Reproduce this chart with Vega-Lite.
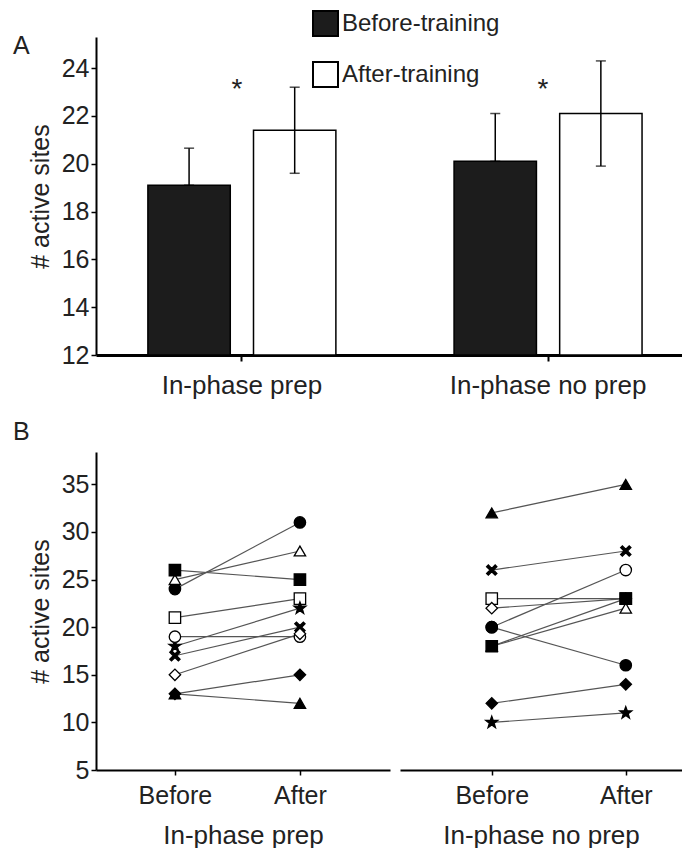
{
  "$schema": "https://vega.github.io/schema/vega-lite/v6.json",
  "padding": {"left": 13, "top": 10, "right": 0, "bottom": 0},
  "background": "white",
  "config": {
    "font": "Liberation Sans",
    "view": {"stroke": null},
    "axis": {"labelFontSize": 25, "titleFontSize": 25, "titleFontWeight": "normal", "labelColor": "#222", "titleColor": "#222", "domainColor": "black", "tickColor": "black", "grid": false, "tickSize": 5, "tickWidth": 1.5, "domainWidth": 2, "labelLimit": 400},
    "title": {"fontSize": 25, "fontWeight": "normal", "color": "#222"}
  },
  "spacing": 22,
  "resolve": {"scale": {"color": "independent"}, "legend": {"color": "independent"}},
  "vconcat": [
    {
      "title": {"text": "A", "anchor": "start", "frame": "group", "dx": -83, "dy": 53},
      "width": 586,
      "height": 318,
      "data": {"values": [
        {"Group": "In-phase prep", "Training": "Before-training", "mean": 19.1, "lo": 19.1, "hi": 20.65},
        {"Group": "In-phase prep", "Training": "After-training", "mean": 21.4, "lo": 19.6, "hi": 23.2},
        {"Group": "In-phase no prep", "Training": "Before-training", "mean": 20.1, "lo": 20.1, "hi": 22.1},
        {"Group": "In-phase no prep", "Training": "After-training", "mean": 22.1, "lo": 19.9, "hi": 24.3}
      ]},
      "encoding": {
        "x": {"field": "Group", "type": "nominal", "sort": ["In-phase prep", "In-phase no prep"],
              "scale": {"paddingInner": 0.386, "paddingOuter": 0.15, "align": 0.565},
              "axis": {"title": null, "labelAngle": 0, "labelPadding": 11, "tickSize": 6, "domainWidth": 3, "tickWidth": 2, "labelFontSize": 26}},
        "xOffset": {"field": "Training", "type": "nominal", "sort": ["Before-training", "After-training"], "scale": {"paddingInner": 0.22}}
      },
      "layer": [
        {
          "mark": {"type": "bar", "stroke": "black", "strokeWidth": 1.5},
          "encoding": {
            "y": {"field": "mean", "type": "quantitative", "scale": {"domain": [12, 25.3], "nice": false, "zero": false},
                  "axis": {"title": "# active sites", "values": [12, 14, 16, 18, 20, 22, 24], "titlePadding": 8}},
            "y2": {"datum": 12},
            "color": {"field": "Training", "type": "nominal",
                      "scale": {"domain": ["Before-training", "After-training"], "range": ["#1c1c1c", "#ffffff"]},
                      "legend": {"orient": "none", "legendX": 216, "legendY": -27, "title": null, "symbolType": "square", "symbolSize": 625, "symbolStrokeColor": "black", "symbolStrokeWidth": 2, "labelFontSize": 24, "labelColor": "#222", "rowPadding": 18, "labelOffset": 3}}
          }
        },
        {
          "mark": {"type": "rule", "color": "black", "strokeWidth": 1.5},
          "encoding": {"y": {"field": "lo", "type": "quantitative"}, "y2": {"field": "hi"}}
        },
        {
          "mark": {"type": "tick", "orient": "horizontal", "size": 10, "thickness": 1.5, "color": "black"},
          "encoding": {"y": {"field": "hi", "type": "quantitative"}}
        },
        {
          "mark": {"type": "tick", "orient": "horizontal", "size": 10, "thickness": 1.5, "color": "black"},
          "encoding": {"y": {"field": "lo", "type": "quantitative"}}
        },
        {
          "data": {"values": [
            {"Group": "In-phase prep", "star": 23.1},
            {"Group": "In-phase no prep", "star": 23.1}
          ]},
          "mark": {"type": "text", "text": "*", "fontSize": 28, "baseline": "middle", "color": "#222", "dx": -5},
          "encoding": {
            "x": {"field": "Group", "type": "nominal", "sort": ["In-phase prep", "In-phase no prep"]},
            "xOffset": null,
            "y": {"field": "star", "type": "quantitative"}
          }
        }
      ]
    },
    {
      "spacing": 10,
      "hconcat": [
        {
          "title": {"text": "B", "anchor": "start", "frame": "group", "dx": -83, "offset": 7},
          "width": 294,
          "height": 318,
          "data": {"values": [
            {"subj": "fc", "time": "Before", "v": 24}, {"subj": "fc", "time": "After", "v": 31},
            {"subj": "ot", "time": "Before", "v": 25}, {"subj": "ot", "time": "After", "v": 28},
            {"subj": "fs", "time": "Before", "v": 26}, {"subj": "fs", "time": "After", "v": 25},
            {"subj": "os", "time": "Before", "v": 21}, {"subj": "os", "time": "After", "v": 23},
            {"subj": "st", "time": "Before", "v": 18}, {"subj": "st", "time": "After", "v": 22},
            {"subj": "x", "time": "Before", "v": 17}, {"subj": "x", "time": "After", "v": 20},
            {"subj": "oc", "time": "Before", "v": 19}, {"subj": "oc", "time": "After", "v": 19},
            {"subj": "od", "time": "Before", "v": 15}, {"subj": "od", "time": "After", "v": 19.3},
            {"subj": "fd", "time": "Before", "v": 13}, {"subj": "fd", "time": "After", "v": 15},
            {"subj": "ft", "time": "Before", "v": 13}, {"subj": "ft", "time": "After", "v": 12}
          ]},
          "encoding": {
            "x": {"field": "time", "type": "ordinal", "sort": ["Before", "After"], "scale": {"type": "point", "padding": 0.676, "align": 0.467},
                  "axis": {"title": "In-phase prep", "labelAngle": 0, "labelPadding": 8, "titlePadding": 14, "titleFontSize": 26}},
            "y": {"field": "v", "type": "quantitative", "scale": {"domain": [5, 38.4], "nice": false, "zero": false},
                  "axis": {"title": "# active sites", "values": [5, 10, 15, 20, 25, 30, 35], "titlePadding": 8}}
          },
          "layer": [
            {"mark": {"type": "line", "color": "#555", "strokeWidth": 1.2}, "encoding": {"detail": {"field": "subj"}}},
            {"mark": {"type": "point", "filled": true, "stroke": "black", "strokeWidth": 1.3, "size": 130, "opacity": 1},
             "encoding": {
               "shape": {"field": "subj", "type": "nominal", "legend": null,
                         "scale": {"domain": ["fc", "oc", "fs", "os", "fd", "od", "ft", "ot", "st", "x"],
                                   "range": ["circle", "circle", "square", "square", "diamond", "diamond", "triangle-up", "triangle-up",
                                             "M0,-1.1L0.26,-0.36L1.05,-0.34L0.42,0.14L0.65,0.9L0,0.44L-0.65,0.9L-0.42,0.14L-1.05,-0.34L-0.26,-0.36Z",
                                             "M-0.9,-0.6L-0.6,-0.9L0,-0.3L0.6,-0.9L0.9,-0.6L0.3,0L0.9,0.6L0.6,0.9L0,0.3L-0.6,0.9L-0.9,0.6L-0.3,0Z"]}},
               "fill": {"field": "subj", "type": "nominal", "legend": null,
                        "scale": {"domain": ["fc", "oc", "fs", "os", "fd", "od", "ft", "ot", "st", "x"],
                                  "range": ["black", "white", "black", "white", "black", "white", "black", "white", "black", "black"]}}
             }}
          ]
        },
        {
          "width": 282,
          "height": 318,
          "data": {"values": [
            {"subj": "ft", "time": "Before", "v": 32}, {"subj": "ft", "time": "After", "v": 35},
            {"subj": "x", "time": "Before", "v": 26}, {"subj": "x", "time": "After", "v": 28},
            {"subj": "os", "time": "Before", "v": 23}, {"subj": "os", "time": "After", "v": 23},
            {"subj": "od", "time": "Before", "v": 22}, {"subj": "od", "time": "After", "v": 23},
            {"subj": "oc", "time": "Before", "v": 20}, {"subj": "oc", "time": "After", "v": 26},
            {"subj": "fc", "time": "Before", "v": 20}, {"subj": "fc", "time": "After", "v": 16},
            {"subj": "ot", "time": "Before", "v": 18}, {"subj": "ot", "time": "After", "v": 22},
            {"subj": "fs", "time": "Before", "v": 18}, {"subj": "fs", "time": "After", "v": 23},
            {"subj": "fd", "time": "Before", "v": 12}, {"subj": "fd", "time": "After", "v": 14},
            {"subj": "st", "time": "Before", "v": 10}, {"subj": "st", "time": "After", "v": 11}
          ]},
          "encoding": {
            "x": {"field": "time", "type": "ordinal", "sort": ["Before", "After"], "scale": {"type": "point", "padding": 0.552, "align": 0.62},
                  "axis": {"title": "In-phase no prep", "labelAngle": 0, "labelPadding": 8, "titlePadding": 14, "titleFontSize": 26}},
            "y": {"field": "v", "type": "quantitative", "scale": {"domain": [5, 38.4], "nice": false, "zero": false}, "axis": null}
          },
          "layer": [
            {"mark": {"type": "line", "color": "#555", "strokeWidth": 1.2}, "encoding": {"detail": {"field": "subj"}}},
            {"mark": {"type": "point", "filled": true, "stroke": "black", "strokeWidth": 1.3, "size": 130, "opacity": 1},
             "encoding": {
               "shape": {"field": "subj", "type": "nominal", "legend": null,
                         "scale": {"domain": ["fc", "oc", "fs", "os", "fd", "od", "ft", "ot", "st", "x"],
                                   "range": ["circle", "circle", "square", "square", "diamond", "diamond", "triangle-up", "triangle-up",
                                             "M0,-1.1L0.26,-0.36L1.05,-0.34L0.42,0.14L0.65,0.9L0,0.44L-0.65,0.9L-0.42,0.14L-1.05,-0.34L-0.26,-0.36Z",
                                             "M-0.9,-0.6L-0.6,-0.9L0,-0.3L0.6,-0.9L0.9,-0.6L0.3,0L0.9,0.6L0.6,0.9L0,0.3L-0.6,0.9L-0.9,0.6L-0.3,0Z"]}},
               "fill": {"field": "subj", "type": "nominal", "legend": null,
                        "scale": {"domain": ["fc", "oc", "fs", "os", "fd", "od", "ft", "ot", "st", "x"],
                                  "range": ["black", "white", "black", "white", "black", "white", "black", "white", "black", "black"]}}
             }}
          ]
        }
      ]
    }
  ]
}
